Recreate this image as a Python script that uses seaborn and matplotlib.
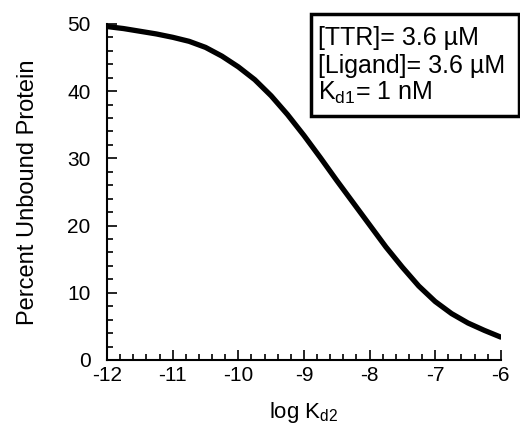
import matplotlib
matplotlib.use('Agg')
import matplotlib.pyplot as plt
import seaborn as sns
import pandas as pd
from matplotlib.ticker import MultipleLocator
from matplotlib.patches import Rectangle

# values
log_kd2 = [-12, -11.75, -11.5, -11.25, -11, -10.75, -10.5, -10.25, -10,
           -9.75, -9.5, -9.25, -9, -8.75, -8.5, -8.25, -8, -7.75, -7.5,
           -7.25, -7, -6.75, -6.5, -6.25, -6]
pct_unbound = [49.6, 49.3, 48.9, 48.5, 48.0, 47.4, 46.5, 45.2, 43.6,
               41.7, 39.3, 36.5, 33.4, 30.1, 26.7, 23.4, 20.1, 16.8, 13.8,
               11.0, 8.7, 6.9, 5.5, 4.4, 3.4]
x_ticks = [-12, -11, -10, -9, -8, -7, -6]
y_ticks = [0, 10, 20, 30, 40, 50]
box_lines = ['[TTR]= 3.6 µM', '[Ligand]= 3.6 µM', r'K$_{\mathregular{d1}}$= 1 nM']

df = pd.DataFrame({'logKd2': log_kd2, 'pct': pct_unbound})

sns.set_style('ticks')
plt.rcParams['font.family'] = ['Liberation Sans', 'DejaVu Sans']
plt.rcParams['mathtext.fontset'] = 'custom'
plt.rcParams['mathtext.rm'] = 'Liberation Sans'
plt.rcParams['mathtext.it'] = 'Liberation Sans'
plt.rcParams['axes.unicode_minus'] = False
plt.rcParams['text.color'] = 'black'
plt.rcParams['axes.labelcolor'] = 'black'

fig = plt.figure(figsize=(5.2, 4.26), dpi=100)
ax = fig.add_axes([0.206, 0.155, 0.757, 0.789])

sns.lineplot(data=df, x='logKd2', y='pct', color='black', linewidth=3.8, ax=ax)

ax.set_xlim(-12, -6)
ax.set_ylim(0, 50)
ax.set_xticks(x_ticks)
ax.set_yticks(y_ticks)
ax.xaxis.set_minor_locator(MultipleLocator(0.2))
ax.yaxis.set_minor_locator(MultipleLocator(2))
ax.tick_params(which='both', direction='in', color='black', width=1.2,
               labelcolor='black')
ax.tick_params(which='major', length=7, labelsize=15)
ax.tick_params(which='minor', length=4)
ax.tick_params(axis='x', pad=4)
ax.tick_params(axis='y', pad=12)
for s in ['top', 'right']:
    ax.spines[s].set_visible(False)
for s in ['left', 'bottom']:
    ax.spines[s].set_color('black')
    ax.spines[s].set_linewidth(1.5)

ax.set_xlabel(r'log K$_{\mathregular{d2}}$', fontsize=16, labelpad=11)
ax.set_ylabel('Percent Unbound Protein', fontsize=17, labelpad=20)

# legend-like box
fig.patches.append(Rectangle((311 / 520, 1 - 116 / 426), 208 / 520, 102 / 426,
                             transform=fig.transFigure, fill=False,
                             edgecolor='black', linewidth=2.5))
for i, line in enumerate(box_lines):
    fig.text(318 / 520, 1 - (45 + i * 27.5) / 426, line, fontsize=18,
             ha='left', va='baseline')

fig.savefig('out.png', dpi=100)
